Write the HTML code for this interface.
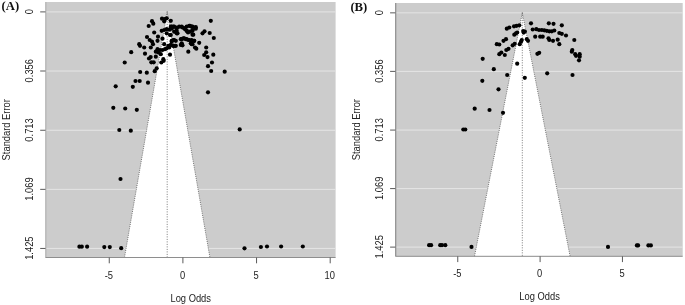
<!DOCTYPE html>
<html><head><meta charset="utf-8"><title>Funnel plots</title>
<style>
html,body{margin:0;padding:0;background:#fff;}
svg{display:block}
.t{font-family:"Liberation Sans",Arial,sans-serif;fill:#222;}
.l{font-family:"Liberation Sans",Arial,sans-serif;fill:#222;}
.p{font-family:"Liberation Serif","Times New Roman",serif;font-size:12.7px;font-weight:bold;fill:#111;}
</style></head><body>
<svg width="685" height="305" viewBox="0 0 685 305">
<rect width="685" height="305" fill="#fff"/>
<rect x="45.5" y="2.0" width="290.10" height="255.50" fill="#cccccc"/>
<polygon points="167.20,11.90 124.49,257.50 209.91,257.50" fill="#ffffff"/>
<line x1="45.5" y1="11.90" x2="167.20" y2="11.90" stroke="#e5e5e5" stroke-width="1"/>
<line x1="167.20" y1="11.90" x2="335.6" y2="11.90" stroke="#e5e5e5" stroke-width="1"/>
<line x1="45.5" y1="71.00" x2="156.92" y2="71.00" stroke="#e5e5e5" stroke-width="1"/>
<line x1="177.48" y1="71.00" x2="335.6" y2="71.00" stroke="#e5e5e5" stroke-width="1"/>
<line x1="45.5" y1="130.26" x2="146.62" y2="130.26" stroke="#e5e5e5" stroke-width="1"/>
<line x1="187.78" y1="130.26" x2="335.6" y2="130.26" stroke="#e5e5e5" stroke-width="1"/>
<line x1="45.5" y1="189.35" x2="136.34" y2="189.35" stroke="#e5e5e5" stroke-width="1"/>
<line x1="198.06" y1="189.35" x2="335.6" y2="189.35" stroke="#e5e5e5" stroke-width="1"/>
<line x1="45.5" y1="248.45" x2="126.06" y2="248.45" stroke="#e5e5e5" stroke-width="1"/>
<line x1="208.34" y1="248.45" x2="335.6" y2="248.45" stroke="#e5e5e5" stroke-width="1"/>
<polyline points="124.49,257.50 167.20,11.90 209.91,257.50" fill="none" stroke="#444" stroke-width="0.7" stroke-dasharray="1 1.2"/>
<line x1="167.20" y1="11.40" x2="167.20" y2="257.50" stroke="#444" stroke-width="0.7" stroke-dasharray="1 1.5"/>
<line x1="45.8" y1="2.0" x2="45.8" y2="257.5" stroke="#a0a0a0" stroke-width="0.8"/>
<line x1="45.5" y1="257.5" x2="335.6" y2="257.5" stroke="#8e8e8e" stroke-width="1"/>
<line x1="40.2" y1="11.90" x2="45.5" y2="11.90" stroke="#5a5a5a" stroke-width="1"/>
<text transform="translate(32.8,11.60) rotate(-90) scale(0.9,1)" text-anchor="middle" class="t" font-size="10.4">0</text>
<line x1="40.2" y1="71.00" x2="45.5" y2="71.00" stroke="#5a5a5a" stroke-width="1"/>
<text transform="translate(32.8,70.70) rotate(-90) scale(0.9,1)" text-anchor="middle" class="t" font-size="10.4">0.356</text>
<line x1="40.2" y1="130.26" x2="45.5" y2="130.26" stroke="#5a5a5a" stroke-width="1"/>
<text transform="translate(32.8,129.96) rotate(-90) scale(0.9,1)" text-anchor="middle" class="t" font-size="10.4">0.713</text>
<line x1="40.2" y1="189.35" x2="45.5" y2="189.35" stroke="#5a5a5a" stroke-width="1"/>
<text transform="translate(32.8,189.05) rotate(-90) scale(0.9,1)" text-anchor="middle" class="t" font-size="10.4">1.069</text>
<line x1="40.2" y1="248.45" x2="45.5" y2="248.45" stroke="#5a5a5a" stroke-width="1"/>
<text transform="translate(32.8,248.15) rotate(-90) scale(0.9,1)" text-anchor="middle" class="t" font-size="10.4">1.425</text>
<line x1="109.25" y1="257.5" x2="109.25" y2="263.3" stroke="#5a5a5a" stroke-width="1"/>
<text transform="translate(108.85,278.90) scale(0.9,1)" text-anchor="middle" class="t" font-size="10.4">-5</text>
<line x1="182.90" y1="257.5" x2="182.90" y2="263.3" stroke="#5a5a5a" stroke-width="1"/>
<text transform="translate(182.50,278.90) scale(0.9,1)" text-anchor="middle" class="t" font-size="10.4">0</text>
<line x1="256.55" y1="257.5" x2="256.55" y2="263.3" stroke="#5a5a5a" stroke-width="1"/>
<text transform="translate(256.15,278.90) scale(0.9,1)" text-anchor="middle" class="t" font-size="10.4">5</text>
<line x1="330.20" y1="257.5" x2="330.20" y2="263.3" stroke="#5a5a5a" stroke-width="1"/>
<text transform="translate(329.80,278.90) scale(0.9,1)" text-anchor="middle" class="t" font-size="10.4">10</text>
<text transform="translate(190.7,302) scale(0.9,1)" text-anchor="middle" class="l" font-size="10.4">Log Odds</text>
<text transform="translate(10,129.75) rotate(-90) scale(0.9,1)" text-anchor="middle" class="l" font-size="10.4">Standard Error</text>
<text x="1.5" y="10.2" class="p">(A)</text>
<g fill="#000">
<circle cx="124.7" cy="62.5" r="2.08"/>
<circle cx="151.3" cy="62.3" r="2.08"/>
<circle cx="153.7" cy="62.3" r="2.08"/>
<circle cx="161.3" cy="62.5" r="2.08"/>
<circle cx="163.7" cy="60.8" r="2.08"/>
<circle cx="156.7" cy="68.3" r="2.08"/>
<circle cx="154.7" cy="71.2" r="2.08"/>
<circle cx="140.2" cy="72.0" r="2.08"/>
<circle cx="146.8" cy="72.7" r="2.08"/>
<circle cx="135.5" cy="81.0" r="2.08"/>
<circle cx="139.7" cy="81.0" r="2.08"/>
<circle cx="148.0" cy="82.7" r="2.08"/>
<circle cx="132.8" cy="86.8" r="2.08"/>
<circle cx="115.7" cy="86.3" r="2.08"/>
<circle cx="208.0" cy="66.2" r="2.08"/>
<circle cx="212.0" cy="62.5" r="2.08"/>
<circle cx="211.2" cy="71.0" r="2.08"/>
<circle cx="208.0" cy="92.3" r="2.08"/>
<circle cx="113.3" cy="107.8" r="2.08"/>
<circle cx="125.2" cy="108.5" r="2.08"/>
<circle cx="136.8" cy="109.8" r="2.08"/>
<circle cx="119.3" cy="130.0" r="2.08"/>
<circle cx="130.8" cy="130.7" r="2.08"/>
<circle cx="120.5" cy="179.0" r="2.08"/>
<circle cx="239.7" cy="129.4" r="2.08"/>
<circle cx="224.7" cy="71.7" r="2.08"/>
<circle cx="79.4" cy="246.7" r="2.08"/>
<circle cx="81.8" cy="246.7" r="2.08"/>
<circle cx="87.1" cy="246.7" r="2.08"/>
<circle cx="104.3" cy="247.1" r="2.08"/>
<circle cx="109.8" cy="247.1" r="2.08"/>
<circle cx="121.2" cy="248.2" r="2.08"/>
<circle cx="244.5" cy="248.3" r="2.08"/>
<circle cx="260.9" cy="247.0" r="2.08"/>
<circle cx="267.0" cy="246.5" r="2.08"/>
<circle cx="281.1" cy="246.5" r="2.08"/>
<circle cx="302.8" cy="246.5" r="2.08"/>
<circle cx="162.0" cy="18.7" r="2.08"/>
<circle cx="164.7" cy="19.2" r="2.08"/>
<circle cx="166.7" cy="18.3" r="2.08"/>
<circle cx="164.2" cy="21.3" r="2.08"/>
<circle cx="170.8" cy="20.8" r="2.08"/>
<circle cx="152.0" cy="21.2" r="2.08"/>
<circle cx="153.3" cy="23.7" r="2.08"/>
<circle cx="148.7" cy="26.0" r="2.08"/>
<circle cx="210.8" cy="20.8" r="2.08"/>
<circle cx="206.2" cy="52.3" r="2.08"/>
<circle cx="149.0" cy="58.5" r="2.08"/>
<circle cx="150.7" cy="57.1" r="2.08"/>
<circle cx="204.2" cy="55.0" r="2.08"/>
<circle cx="207.5" cy="57.1" r="2.08"/>
<circle cx="170.8" cy="26.7" r="2.08"/>
<circle cx="173.3" cy="26.7" r="2.08"/>
<circle cx="176.7" cy="27.5" r="2.08"/>
<circle cx="181.7" cy="26.7" r="2.08"/>
<circle cx="184.2" cy="28.0" r="2.08"/>
<circle cx="186.7" cy="26.7" r="2.08"/>
<circle cx="190.0" cy="25.8" r="2.08"/>
<circle cx="192.5" cy="26.7" r="2.08"/>
<circle cx="195.8" cy="27.2" r="2.08"/>
<circle cx="161.7" cy="30.8" r="2.08"/>
<circle cx="164.2" cy="30.0" r="2.08"/>
<circle cx="166.7" cy="29.2" r="2.08"/>
<circle cx="169.2" cy="29.7" r="2.08"/>
<circle cx="171.7" cy="28.7" r="2.08"/>
<circle cx="154.2" cy="32.5" r="2.08"/>
<circle cx="176.7" cy="30.8" r="2.08"/>
<circle cx="177.5" cy="33.3" r="2.08"/>
<circle cx="186.7" cy="30.8" r="2.08"/>
<circle cx="188.0" cy="32.5" r="2.08"/>
<circle cx="192.5" cy="30.8" r="2.08"/>
<circle cx="193.3" cy="34.7" r="2.08"/>
<circle cx="170.0" cy="35.0" r="2.08"/>
<circle cx="166.7" cy="33.3" r="2.08"/>
<circle cx="147.0" cy="37.0" r="2.08"/>
<circle cx="158.0" cy="36.7" r="2.08"/>
<circle cx="162.5" cy="38.7" r="2.08"/>
<circle cx="149.7" cy="40.0" r="2.08"/>
<circle cx="152.0" cy="41.7" r="2.08"/>
<circle cx="157.5" cy="40.8" r="2.08"/>
<circle cx="173.3" cy="40.0" r="2.08"/>
<circle cx="175.8" cy="40.8" r="2.08"/>
<circle cx="171.7" cy="41.7" r="2.08"/>
<circle cx="181.7" cy="39.2" r="2.08"/>
<circle cx="184.2" cy="38.3" r="2.08"/>
<circle cx="186.7" cy="39.2" r="2.08"/>
<circle cx="189.2" cy="40.0" r="2.08"/>
<circle cx="191.7" cy="40.8" r="2.08"/>
<circle cx="194.2" cy="40.8" r="2.08"/>
<circle cx="139.2" cy="44.2" r="2.08"/>
<circle cx="140.0" cy="45.8" r="2.08"/>
<circle cx="153.0" cy="44.2" r="2.08"/>
<circle cx="164.2" cy="44.2" r="2.08"/>
<circle cx="168.3" cy="45.8" r="2.08"/>
<circle cx="170.8" cy="45.0" r="2.08"/>
<circle cx="173.3" cy="45.8" r="2.08"/>
<circle cx="175.8" cy="45.8" r="2.08"/>
<circle cx="181.7" cy="44.2" r="2.08"/>
<circle cx="182.5" cy="45.3" r="2.08"/>
<circle cx="191.7" cy="44.2" r="2.08"/>
<circle cx="144.2" cy="47.5" r="2.08"/>
<circle cx="150.8" cy="47.5" r="2.08"/>
<circle cx="157.5" cy="49.2" r="2.08"/>
<circle cx="160.0" cy="50.0" r="2.08"/>
<circle cx="162.5" cy="50.0" r="2.08"/>
<circle cx="165.0" cy="49.2" r="2.08"/>
<circle cx="166.7" cy="48.3" r="2.08"/>
<circle cx="169.2" cy="47.5" r="2.08"/>
<circle cx="131.2" cy="52.2" r="2.08"/>
<circle cx="145.0" cy="53.7" r="2.08"/>
<circle cx="155.8" cy="51.7" r="2.08"/>
<circle cx="158.3" cy="52.5" r="2.08"/>
<circle cx="160.8" cy="54.2" r="2.08"/>
<circle cx="170.0" cy="54.7" r="2.08"/>
<circle cx="155.8" cy="56.7" r="2.08"/>
<circle cx="163.3" cy="59.2" r="2.08"/>
<circle cx="202.5" cy="33.3" r="2.08"/>
<circle cx="204.5" cy="31.3" r="2.08"/>
<circle cx="209.7" cy="33.0" r="2.08"/>
<circle cx="213.8" cy="38.0" r="2.08"/>
<circle cx="199.2" cy="42.8" r="2.08"/>
<circle cx="206.2" cy="47.5" r="2.08"/>
<circle cx="195.0" cy="47.5" r="2.08"/>
<circle cx="196.3" cy="48.7" r="2.08"/>
<circle cx="188.3" cy="51.7" r="2.08"/>
<circle cx="213.3" cy="54.7" r="2.08"/>
<circle cx="171.7" cy="26.7" r="2.08"/>
<circle cx="174.2" cy="26.7" r="2.08"/>
<circle cx="176.7" cy="28.3" r="2.08"/>
<circle cx="179.2" cy="26.7" r="2.08"/>
<circle cx="182.5" cy="27.5" r="2.08"/>
<circle cx="185.0" cy="29.2" r="2.08"/>
<circle cx="186.7" cy="30.8" r="2.08"/>
<circle cx="189.2" cy="25.8" r="2.08"/>
<circle cx="191.7" cy="26.7" r="2.08"/>
<circle cx="195.0" cy="27.5" r="2.08"/>
<circle cx="195.8" cy="28.7" r="2.08"/>
<circle cx="192.5" cy="30.0" r="2.08"/>
<circle cx="190.0" cy="31.7" r="2.08"/>
<circle cx="192.5" cy="34.7" r="2.08"/>
<circle cx="176.7" cy="33.3" r="2.08"/>
<circle cx="174.2" cy="31.7" r="2.08"/>
<circle cx="170.8" cy="35.0" r="2.08"/>
<circle cx="171.7" cy="40.8" r="2.08"/>
<circle cx="174.2" cy="40.0" r="2.08"/>
<circle cx="180.8" cy="39.2" r="2.08"/>
<circle cx="183.3" cy="38.3" r="2.08"/>
<circle cx="185.8" cy="39.2" r="2.08"/>
<circle cx="188.3" cy="40.0" r="2.08"/>
<circle cx="191.7" cy="40.0" r="2.08"/>
<circle cx="194.2" cy="40.8" r="2.08"/>
<circle cx="181.7" cy="43.3" r="2.08"/>
<circle cx="180.8" cy="45.0" r="2.08"/>
<circle cx="190.8" cy="43.3" r="2.08"/>
<circle cx="192.5" cy="44.2" r="2.08"/>
<circle cx="173.3" cy="45.8" r="2.08"/>
<circle cx="175.0" cy="45.8" r="2.08"/>
<circle cx="170.8" cy="45.0" r="2.08"/>
</g>
<rect x="395.4" y="3.0" width="287.30" height="253.30" fill="#cccccc"/>
<polygon points="522.30,12.85 474.50,256.30 570.10,256.30" fill="#ffffff"/>
<line x1="395.4" y1="12.85" x2="522.30" y2="12.85" stroke="#e5e5e5" stroke-width="1"/>
<line x1="522.30" y1="12.85" x2="682.7" y2="12.85" stroke="#e5e5e5" stroke-width="1"/>
<line x1="395.4" y1="71.38" x2="510.81" y2="71.38" stroke="#e5e5e5" stroke-width="1"/>
<line x1="533.79" y1="71.38" x2="682.7" y2="71.38" stroke="#e5e5e5" stroke-width="1"/>
<line x1="395.4" y1="130.07" x2="499.28" y2="130.07" stroke="#e5e5e5" stroke-width="1"/>
<line x1="545.32" y1="130.07" x2="682.7" y2="130.07" stroke="#e5e5e5" stroke-width="1"/>
<line x1="395.4" y1="188.59" x2="487.79" y2="188.59" stroke="#e5e5e5" stroke-width="1"/>
<line x1="556.81" y1="188.59" x2="682.7" y2="188.59" stroke="#e5e5e5" stroke-width="1"/>
<line x1="395.4" y1="247.12" x2="476.30" y2="247.12" stroke="#e5e5e5" stroke-width="1"/>
<line x1="568.30" y1="247.12" x2="682.7" y2="247.12" stroke="#e5e5e5" stroke-width="1"/>
<polyline points="474.50,256.30 522.30,12.85 570.10,256.30" fill="none" stroke="#444" stroke-width="0.7" stroke-dasharray="1 1.2"/>
<line x1="522.30" y1="12.35" x2="522.30" y2="256.30" stroke="#444" stroke-width="0.7" stroke-dasharray="1 1.5"/>
<line x1="395.7" y1="3.0" x2="395.7" y2="256.3" stroke="#8e8e8e" stroke-width="1.2"/>
<line x1="395.4" y1="256.3" x2="682.7" y2="256.3" stroke="#8e8e8e" stroke-width="1"/>
<line x1="390.09999999999997" y1="12.85" x2="395.4" y2="12.85" stroke="#5a5a5a" stroke-width="1"/>
<text transform="translate(382.8,12.55) rotate(-90) scale(0.93,1)" text-anchor="middle" class="t" font-size="10.05">0</text>
<line x1="390.09999999999997" y1="71.38" x2="395.4" y2="71.38" stroke="#5a5a5a" stroke-width="1"/>
<text transform="translate(382.8,71.08) rotate(-90) scale(0.93,1)" text-anchor="middle" class="t" font-size="10.05">0.356</text>
<line x1="390.09999999999997" y1="130.07" x2="395.4" y2="130.07" stroke="#5a5a5a" stroke-width="1"/>
<text transform="translate(382.8,129.77) rotate(-90) scale(0.93,1)" text-anchor="middle" class="t" font-size="10.05">0.713</text>
<line x1="390.09999999999997" y1="188.59" x2="395.4" y2="188.59" stroke="#5a5a5a" stroke-width="1"/>
<text transform="translate(382.8,188.29) rotate(-90) scale(0.93,1)" text-anchor="middle" class="t" font-size="10.05">1.069</text>
<line x1="390.09999999999997" y1="247.12" x2="395.4" y2="247.12" stroke="#5a5a5a" stroke-width="1"/>
<text transform="translate(382.8,246.82) rotate(-90) scale(0.93,1)" text-anchor="middle" class="t" font-size="10.05">1.425</text>
<line x1="457.75" y1="256.3" x2="457.75" y2="262.1" stroke="#5a5a5a" stroke-width="1"/>
<text transform="translate(457.35,277.20) scale(0.93,1)" text-anchor="middle" class="t" font-size="10.05">-5</text>
<line x1="540.10" y1="256.3" x2="540.10" y2="262.1" stroke="#5a5a5a" stroke-width="1"/>
<text transform="translate(539.70,277.20) scale(0.93,1)" text-anchor="middle" class="t" font-size="10.05">0</text>
<line x1="622.45" y1="256.3" x2="622.45" y2="262.1" stroke="#5a5a5a" stroke-width="1"/>
<text transform="translate(622.05,277.20) scale(0.93,1)" text-anchor="middle" class="t" font-size="10.05">5</text>
<text transform="translate(539.6,299.9) scale(0.93,1)" text-anchor="middle" class="l" font-size="10.05">Log Odds</text>
<text transform="translate(360.2,129.65) rotate(-90) scale(0.93,1)" text-anchor="middle" class="l" font-size="10.05">Standard Error</text>
<text x="350.4" y="11.3" class="p">(B)</text>
<g fill="#000">
<circle cx="506.8" cy="28.7" r="2.08"/>
<circle cx="509.3" cy="27.5" r="2.08"/>
<circle cx="514.0" cy="26.3" r="2.08"/>
<circle cx="516.5" cy="25.8" r="2.08"/>
<circle cx="519.3" cy="25.3" r="2.08"/>
<circle cx="531.0" cy="23.3" r="2.08"/>
<circle cx="548.8" cy="23.3" r="2.08"/>
<circle cx="553.5" cy="23.8" r="2.08"/>
<circle cx="561.8" cy="25.3" r="2.08"/>
<circle cx="532.7" cy="29.5" r="2.08"/>
<circle cx="536.3" cy="29.2" r="2.08"/>
<circle cx="539.0" cy="30.0" r="2.08"/>
<circle cx="541.8" cy="30.0" r="2.08"/>
<circle cx="544.3" cy="30.3" r="2.08"/>
<circle cx="546.8" cy="30.8" r="2.08"/>
<circle cx="549.3" cy="31.3" r="2.08"/>
<circle cx="551.8" cy="31.3" r="2.08"/>
<circle cx="554.3" cy="30.5" r="2.08"/>
<circle cx="523.2" cy="31.1" r="2.08"/>
<circle cx="524.9" cy="31.5" r="2.08"/>
<circle cx="523.7" cy="32.6" r="2.08"/>
<circle cx="514.3" cy="34.7" r="2.08"/>
<circle cx="516.0" cy="33.3" r="2.08"/>
<circle cx="517.2" cy="32.5" r="2.08"/>
<circle cx="559.3" cy="33.0" r="2.08"/>
<circle cx="561.8" cy="33.8" r="2.08"/>
<circle cx="566.0" cy="35.5" r="2.08"/>
<circle cx="535.2" cy="36.7" r="2.08"/>
<circle cx="540.2" cy="36.7" r="2.08"/>
<circle cx="542.7" cy="36.7" r="2.08"/>
<circle cx="548.5" cy="38.3" r="2.08"/>
<circle cx="549.3" cy="40.0" r="2.08"/>
<circle cx="553.0" cy="40.8" r="2.08"/>
<circle cx="557.7" cy="39.7" r="2.08"/>
<circle cx="574.3" cy="40.0" r="2.08"/>
<circle cx="503.5" cy="40.8" r="2.08"/>
<circle cx="506.0" cy="39.2" r="2.08"/>
<circle cx="521.8" cy="40.0" r="2.08"/>
<circle cx="521.0" cy="41.7" r="2.08"/>
<circle cx="526.8" cy="39.2" r="2.08"/>
<circle cx="528.0" cy="40.8" r="2.08"/>
<circle cx="496.8" cy="44.2" r="2.08"/>
<circle cx="499.3" cy="44.5" r="2.08"/>
<circle cx="512.7" cy="45.3" r="2.08"/>
<circle cx="514.7" cy="43.8" r="2.08"/>
<circle cx="519.7" cy="44.2" r="2.08"/>
<circle cx="559.3" cy="44.2" r="2.08"/>
<circle cx="506.3" cy="50.0" r="2.08"/>
<circle cx="508.5" cy="48.8" r="2.08"/>
<circle cx="499.3" cy="54.2" r="2.08"/>
<circle cx="501.3" cy="52.5" r="2.08"/>
<circle cx="504.8" cy="55.0" r="2.08"/>
<circle cx="537.4" cy="53.8" r="2.08"/>
<circle cx="539.2" cy="52.8" r="2.08"/>
<circle cx="572.3" cy="50.0" r="2.08"/>
<circle cx="571.8" cy="51.7" r="2.08"/>
<circle cx="575.2" cy="54.2" r="2.08"/>
<circle cx="576.0" cy="55.8" r="2.08"/>
<circle cx="579.7" cy="54.2" r="2.08"/>
<circle cx="579.7" cy="56.7" r="2.08"/>
<circle cx="579.0" cy="60.3" r="2.08"/>
<circle cx="482.7" cy="58.8" r="2.08"/>
<circle cx="517.2" cy="63.7" r="2.08"/>
<circle cx="493.8" cy="69.2" r="2.08"/>
<circle cx="507.2" cy="75.0" r="2.08"/>
<circle cx="524.8" cy="77.8" r="2.08"/>
<circle cx="482.3" cy="80.8" r="2.08"/>
<circle cx="498.5" cy="89.3" r="2.08"/>
<circle cx="547.2" cy="73.3" r="2.08"/>
<circle cx="572.5" cy="75.0" r="2.08"/>
<circle cx="474.7" cy="108.7" r="2.08"/>
<circle cx="489.5" cy="110.0" r="2.08"/>
<circle cx="503.0" cy="112.8" r="2.08"/>
<circle cx="463.3" cy="129.5" r="2.08"/>
<circle cx="465.3" cy="129.5" r="2.08"/>
<circle cx="429.1" cy="245.2" r="2.08"/>
<circle cx="431.1" cy="245.2" r="2.08"/>
<circle cx="440.2" cy="245.2" r="2.08"/>
<circle cx="442.0" cy="245.2" r="2.08"/>
<circle cx="445.3" cy="245.2" r="2.08"/>
<circle cx="471.5" cy="246.9" r="2.08"/>
<circle cx="608.0" cy="246.9" r="2.08"/>
<circle cx="636.9" cy="245.4" r="2.08"/>
<circle cx="638.1" cy="245.4" r="2.08"/>
<circle cx="648.4" cy="245.4" r="2.08"/>
<circle cx="650.9" cy="245.4" r="2.08"/>
</g>
</svg>
</body></html>
